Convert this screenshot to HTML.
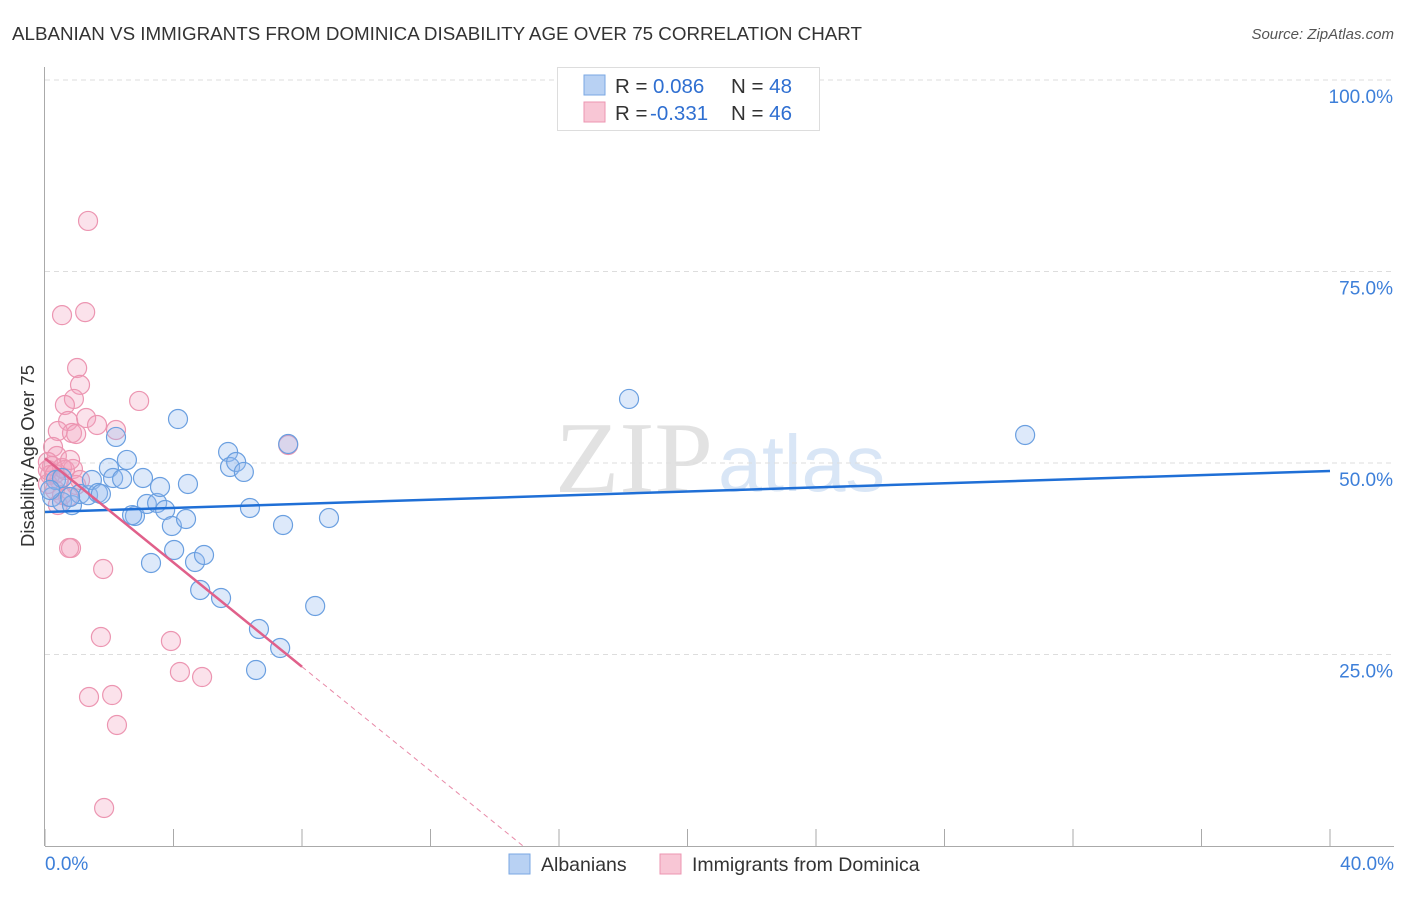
<!DOCTYPE html>
<html><head><meta charset="utf-8"><style>
body{margin:0;background:#fff;font-family:"Liberation Sans",sans-serif;}
svg text{font-family:"Liberation Sans",sans-serif;}
</style></head><body>
<svg id="chart" width="1406" height="892">
<text x="12" y="40" font-size="18" textLength="850" lengthAdjust="spacingAndGlyphs" fill="#333">ALBANIAN VS IMMIGRANTS FROM DOMINICA DISABILITY AGE OVER 75 CORRELATION CHART</text>
<text x="1394" y="39" font-size="15" fill="#555" font-style="italic" text-anchor="end">Source: ZipAtlas.com</text>
<text x="555" y="492" font-size="102" textLength="158" lengthAdjust="spacingAndGlyphs" fill="#e2e2e2" font-family="Liberation Serif" style="font-family:'Liberation Serif',serif">ZIP</text>
<text x="718" y="491" font-size="80" textLength="167" lengthAdjust="spacingAndGlyphs" fill="#d9e6f6">atlas</text>
<g id="grid"></g>
<g id="axes"></g>
<g id="marks"></g>
<text transform="translate(34,456) rotate(-90)" font-size="18.5" fill="#333" text-anchor="middle">Disability Age Over 75</text>
<g>
<rect x="557.5" y="67.5" width="262" height="63" fill="#fff" stroke="#ddd"/>
<rect x="584" y="75" width="21" height="20" fill="#b8d1f3" stroke="#7aa7e3"/>
<rect x="584" y="102" width="21" height="20" fill="#f8c6d5" stroke="#ec95b1"/>
<text x="615" y="93" font-size="20.5" fill="#333">R = <tspan x="653" fill="#2f6fd1">0.086</tspan></text>
<text x="731" y="93" font-size="20.5" fill="#333">N = <tspan fill="#2f6fd1">48</tspan></text>
<text x="615" y="120" font-size="20.5" fill="#333">R = <tspan x="650" fill="#2f6fd1">-0.331</tspan></text>
<text x="731" y="120" font-size="20.5" fill="#333">N = <tspan fill="#2f6fd1">46</tspan></text>
</g>
<g>
<rect x="509" y="854" width="21" height="20" fill="#b8d1f3" stroke="#7aa7e3"/>
<text x="541" y="871" font-size="19.5" fill="#333">Albanians</text>
<rect x="660" y="854" width="21" height="20" fill="#f8c6d5" stroke="#ec95b1"/>
<text x="692" y="871" font-size="19.5" fill="#333">Immigrants from Dominica</text>
</g>
</svg>
<script>
const blueX=[0.22,0.34,0.53,0.84,1.09,1.34,1.46,1.65,1.74,1.99,2.12,2.40,2.21,2.55,2.80,2.71,3.05,3.17,3.30,3.49,3.58,3.74,3.95,4.02,4.14,4.39,4.45,4.67,4.83,4.95,5.48,5.70,5.76,5.95,6.19,6.38,6.66,6.57,7.32,7.41,7.57,8.41,8.84,18.18,30.51,0.53,0.16,0.78];
const blueY=[45.56,47.78,44.9,44.5,45.95,45.8,47.78,46.08,45.95,49.35,48.04,47.91,53.4,50.4,43.08,43.2,48.04,44.65,36.95,44.78,46.87,43.86,41.78,38.64,55.74,42.69,47.26,37.08,33.42,37.99,32.38,51.44,49.48,50.13,48.83,44.13,28.33,22.98,25.85,41.91,52.48,31.33,42.82,58.36,53.66,48.04,46.48,45.56];
const pinkX=[1.34,1.25,0.53,1.0,1.09,0.90,2.93,0.62,0.72,1.28,1.62,0.40,0.84,0.97,2.21,7.57,0.25,0.37,0.09,0.22,0.53,0.87,0.16,0.44,0.97,0.09,0.31,0.53,0.72,0.40,0.81,0.75,1.81,1.74,3.92,4.20,4.89,1.37,2.09,2.24,1.84,0.09,0.31,0.62,1.09,0.78];
const pinkY=[81.6,69.7,69.3,62.4,60.2,58.36,58.1,57.57,55.48,55.87,54.96,54.18,53.92,53.79,54.31,52.35,52.09,50.91,50.13,49.61,49.35,49.22,48.43,47.78,47.13,47.26,46.48,45.82,45.56,44.52,38.9,38.9,36.16,27.28,26.76,22.72,22.06,19.45,19.71,15.80,4.96,49.09,48.56,49.09,47.78,50.39];
const blueLine=[43.6,48.96];
const pinkLine=[50.6,-3.4];
const xTicks=[0,4,8,12,16,20,24,28,32,36,40];
const yTicks=[25,50,75,100];
const sx=v=>45+v*(1285/40);
const sy=v=>846-v*(766/100);
const NS="http://www.w3.org/2000/svg";
function mk(t,a,p){const e=document.createElementNS(NS,t);for(const k in a)e.setAttribute(k,a[k]);p.appendChild(e);return e;}
const grid=document.getElementById('grid'),axes=document.getElementById('axes'),marks=document.getElementById('marks');
yTicks.forEach(t=>{
 const l=mk('line',{x1:45,x2:1394,y1:sy(t),y2:sy(t),stroke:'#ddd','stroke-dasharray':'5,4'},grid);
 
 
 const tx=mk('text',{x:1393,y:sy(t)+23,'font-size':19,fill:'#3d7fd9','text-anchor':'end'},axes);
 tx.textContent=t.toFixed(1)+'%';
 
 
});
const ya=mk('line',{x1:44.5,x2:44.5,y1:67,y2:846,stroke:'#aaa'},axes);


const xa=mk('line',{x1:45,x2:1394,y1:846.5,y2:846.5,stroke:'#aaa'},axes);


xTicks.forEach(t=>{
 const l=mk('line',{x1:sx(t),x2:sx(t),y1:829,y2:846,stroke:'#aaa'},axes);
 
 
});
[[0,'start',45],[40,'end',1394]].forEach(([t,a,x])=>{
 const tx=mk('text',{x:x,y:870,'font-size':19,fill:'#3d7fd9','text-anchor':a},axes);
 tx.textContent=t.toFixed(1)+'%';
 
 
});
pinkX.forEach((x,i)=>{
 const c=mk('circle',{cx:sx(x),cy:sy(pinkY[i]),r:9.5,fill:'rgba(243,160,188,0.3)',stroke:'#ec95b1','stroke-width':1.2},marks);
 
 
});
blueX.forEach((x,i)=>{
 const c=mk('circle',{cx:sx(x),cy:sy(blueY[i]),r:9.5,fill:'rgba(150,188,238,0.32)',stroke:'#6a9fe0','stroke-width':1.2},marks);
 
 
});
const bl=mk('line',{x1:sx(0),y1:sy(blueLine[0]),x2:sx(40),y2:sy(blueLine[1]),stroke:'#1f6fd6','stroke-width':2.5},marks);


const pl=mk('line',{x1:sx(0),y1:sy(pinkLine[0]),x2:sx(8),y2:sy(pinkLine[0]+pinkLine[1]*8),stroke:'#e0608a','stroke-width':2.5},marks);


const xz=-pinkLine[0]/pinkLine[1];
const pd=mk('line',{x1:sx(8),y1:sy(pinkLine[0]+pinkLine[1]*8),x2:sx(xz),y2:sy(0),stroke:'#e88aa8','stroke-width':1,'stroke-dasharray':'5,4'},marks);


</script>
</body></html>
